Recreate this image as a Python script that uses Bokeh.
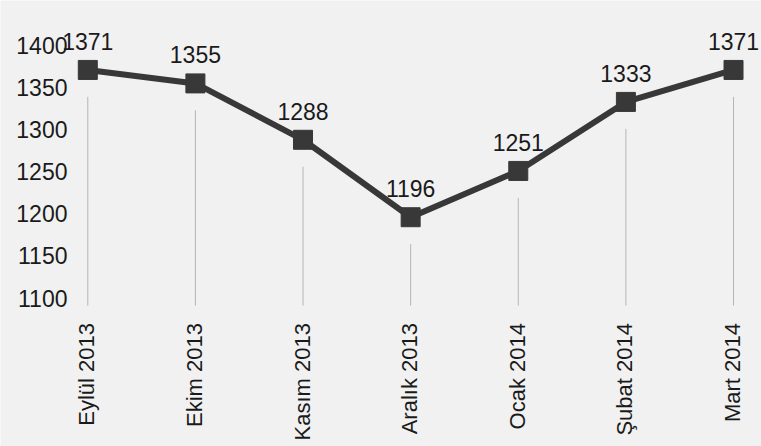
from bokeh.plotting import figure
from bokeh.models import ColumnDataSource, LabelSet, Range1d
from bokeh.core.properties import value
from bokeh.embed import file_html
from bokeh.resources import INLINE
import math

months = ["Eylül 2013", "Ekim 2013", "Kasım 2013", "Aralık 2013", "Ocak 2014", "Şubat 2014", "Mart 2014"]
values = [1371, 1355, 1288, 1196, 1251, 1333, 1371]
y_ticks = [1100, 1150, 1200, 1250, 1300, 1350, 1400]

FONT = "Liberation Sans"
DARK = "#383838"
TXT = "#1a1a1a"
BG = "#f1f1f1"
X0, X1 = -0.811, 6.26
Y0, Y1 = 923.6, 1453.5
FLOOR = 1091

xs = list(range(len(months)))
src = ColumnDataSource(dict(
    x=xs,
    y=values,
    lbl=[str(v) for v in values],
    drop_top=[v - 32 for v in values],
    drop_bot=[FLOOR] * len(values),
    month=months,
    base=[y_ticks[0]] * len(values),
))
ysrc = ColumnDataSource(dict(
    x=[X0] * len(y_ticks),
    y=y_ticks,
    lbl=[str(t) for t in y_ticks],
))

p = figure(width=761, height=446, output_backend="svg", toolbar_location=None,
           x_range=Range1d(X0, X1), y_range=Range1d(Y0, Y1),
           min_border=0)
p.axis.visible = False
p.background_fill_color = BG
p.border_fill_color = BG
p.outline_line_color = None
p.grid.visible = False

# thin drop lines
p.segment(x0="x", y0="drop_top", x1="x", y1="drop_bot", source=src,
          line_color="#b5b5b5", line_width=1)

p.line(x="x", y="y", source=src, line_color=DARK, line_width=6)
p.scatter(x="x", y="y", source=src, marker="square", size=19,
          fill_color=DARK, line_color=DARK)

# value labels
p.add_layout(LabelSet(x="x", y="y", text="lbl", source=src, text_align="center",
                      text_baseline="alphabetic", y_offset=20, text_font=value(FONT),
                      text_font_size="23px", text_color=TXT))

# y tick labels
p.add_layout(LabelSet(x="x", y="y", text="lbl", source=ysrc, text_align="right",
                      text_baseline="middle", x_offset=67, text_font=value(FONT),
                      text_font_size="23px", text_color=TXT))

# category labels (vertical, reading upward)
p.add_layout(LabelSet(x="x", y="base", text="month", source=src, angle=math.pi / 2,
                      text_align="right", text_baseline="middle", y_offset=-25,
                      x_offset=-1, text_font=value(FONT), text_font_size="22px",
                      text_color=TXT))

open("out.html", "w").write(file_html(p, INLINE))
